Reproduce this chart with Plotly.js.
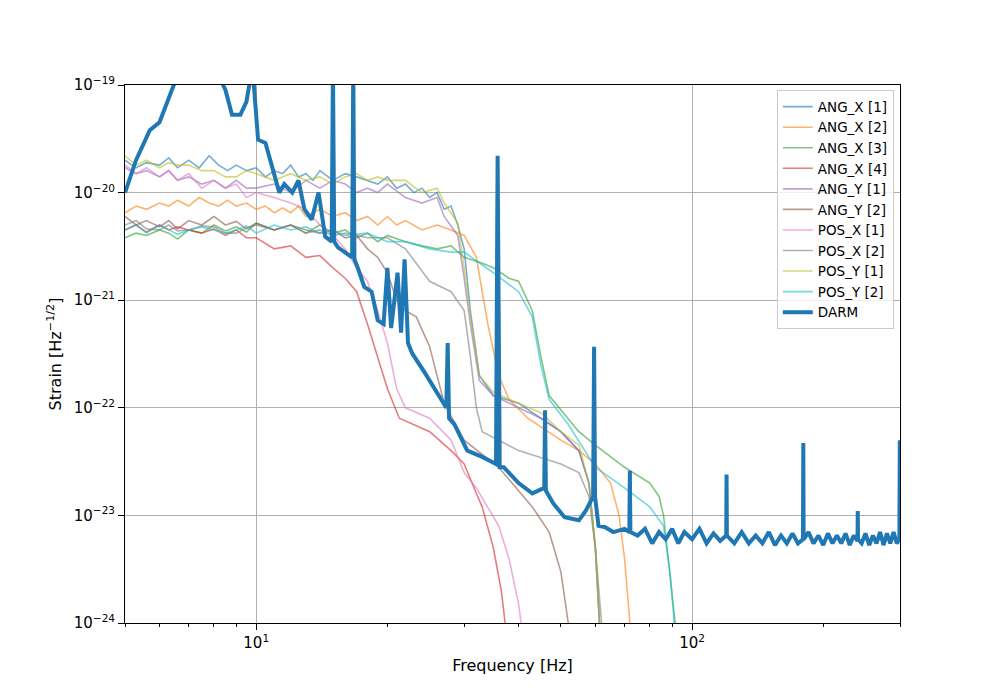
<!DOCTYPE html>
<html><head><meta charset="utf-8">
<script src="https://cdn.plot.ly/plotly-3.0.1.min.js"></script>
<style>body{margin:0}#c{width:1000px;height:700px}</style>
</head><body><div id="c"></div>
<script>
const angX1_f=[5,5.3,5.6,6,6.3,6.6,7,7.4,7.8,8.2,8.6,9,9.5,10,10.5,11,11.5,12,12.5,13,13.5,14,15,16,17,18,19,20,21,22,23,24,25,26,27,28,29,30,31,32.5,35,40,45,50,55,58,60,61.5];
const angX1_v=[2e-20,1.7e-20,1.9e-20,1.8e-20,2.1e-20,1.7e-20,2e-20,1.7e-20,2.2e-20,1.8e-20,1.6e-20,1.8e-20,1.6e-20,1.7e-20,1.4e-20,1.6e-20,1.5e-20,1.8e-20,1.4e-20,1.5e-20,1.3e-20,1.6e-20,1.3e-20,1.5e-20,1.4e-20,1.3e-20,1.2e-20,1.4e-20,1.1e-20,1.2e-20,1e-20,1.1e-20,9e-21,1e-20,7e-21,7.5e-21,5e-21,3e-21,8e-22,2e-22,1.3e-22,1.1e-22,8e-23,6e-23,4e-23,2e-23,5e-24,8e-25];
const angX2_f=[5,5.3,5.6,6,6.3,6.6,7,7.4,7.8,8.2,8.6,9,9.5,10,10.5,11,11.5,12,12.5,13,14,15,16,17,18,19,20,21,22,24,26,28,30,32,33,34,36,38,42,50,55,60,65,68,70,72];
const angX2_v=[6.5e-21,7.5e-21,7e-21,8e-21,7.5e-21,8.5e-21,7.5e-21,9e-21,8e-21,7.5e-21,8.5e-21,7.5e-21,8e-21,7e-21,7.5e-21,6.5e-21,7.2e-21,6.5e-21,7.5e-21,6e-21,7e-21,6e-21,6.5e-21,5.5e-21,6e-21,5e-21,6e-21,5e-21,5.5e-21,4.5e-21,5e-21,4.5e-21,4e-21,2.5e-21,1.2e-21,6e-22,2e-22,1.2e-22,8e-23,5e-23,4e-23,3e-23,2e-23,1e-23,4e-24,1e-24];
const angX3_f=[5,5.3,5.6,6,6.3,6.6,7,7.5,8,8.5,9,9.5,10,11,12,13,14,15,16,17,18,19,20,22,24,26,28,30,33,35,38,40,43,45,47,52,55,60,70,80,84,86,89,92];
const angX3_v=[3.8e-21,4.2e-21,4e-21,4.5e-21,4.2e-21,3.7e-21,4.5e-21,4.2e-21,5e-21,4.4e-21,4.8e-21,4.3e-21,5.2e-21,4.5e-21,5e-21,4.2e-21,5e-21,4.2e-21,4.5e-21,3.8e-21,4.2e-21,3.5e-21,4e-21,3.5e-21,3.2e-21,3e-21,3.2e-21,2.5e-21,2.2e-21,2e-21,1.6e-21,1.5e-21,8e-22,3e-22,1.3e-22,8e-23,6e-23,4.5e-23,2.8e-23,2e-23,1.5e-23,1e-23,3e-24,8e-25];
const angX4_f=[5,5.3,5.6,6,6.3,6.6,7,7.5,8,8.5,9,9.5,10,11,12,13,14,15,16,17,18,19,20,21.3,23,25,28,30,32,33,35,36.5,37.5];
const angX4_v=[4.5e-21,5e-21,4.3e-21,5e-21,4.5e-21,4.8e-21,4.5e-21,4.2e-21,4.6e-21,4e-21,4.5e-21,3.8e-21,3.8e-21,3e-21,3.2e-21,2.5e-21,2.6e-21,2e-21,1.6e-21,1.2e-21,6e-22,3e-22,1.5e-22,8e-23,7e-23,6e-23,4e-23,3e-23,1.6e-23,1.2e-23,5e-24,2e-24,8e-25];
const angY1_f=[5,5.3,5.6,6,6.3,6.6,7,7.5,8,8.5,9,9.5,10,11,12,13,14,15,16,17,18,19,20,22,24,26,27,29,30,31,32.5,35,40,45,50,55,58,60,61.5];
const angY1_v=[1.7e-20,1.5e-20,1.6e-20,1.4e-20,1.6e-20,1.3e-20,1.4e-20,1.2e-20,1.3e-20,1.1e-20,1.3e-20,1.1e-20,1.1e-20,1.2e-20,1e-20,1.3e-20,1.1e-20,1.3e-20,1.2e-20,1e-20,1.1e-20,1e-20,1.2e-20,9e-21,8e-21,9e-21,6e-21,4e-21,1.6e-21,6e-22,1.8e-22,1.3e-22,1e-22,8e-23,6e-23,4e-23,2e-23,5e-24,8e-25];
const angY2_f=[5,5.3,5.6,6,6.3,6.6,7,7.5,8,8.5,9,9.5,10,11,12,13,14,15,16,17,18,19,20,21,22,23.3,25,27,30,36,43,47,50,52];
const angY2_v=[6e-21,5e-21,5.5e-21,4.8e-21,5.5e-21,4.6e-21,5.5e-21,5e-21,6e-21,5e-21,5.4e-21,4.6e-21,5.2e-21,4.5e-21,5e-21,4.5e-21,4.2e-21,4.5e-21,3.8e-21,4e-21,3e-21,2.5e-21,1.8e-21,1e-21,8e-22,7e-22,3.7e-22,1.1e-22,5e-23,2.8e-23,1.2e-23,7e-24,3e-24,1e-24];
const posX1_f=[5,5.3,5.6,6,6.3,6.6,7,7.5,8,8.5,9,9.5,10,11,12,13,14,15,16,17,18,19,20,21,22,25,28,30,32,34,36,38,40,41];
const posX1_v=[1.8e-20,1.5e-20,1.7e-20,1.4e-20,1.6e-20,1.3e-20,1.5e-20,1.1e-20,1.3e-20,1.1e-20,1.2e-20,9e-21,1e-20,9e-21,8e-21,7e-21,5e-21,4e-21,3e-21,2e-21,1.5e-21,8e-22,4e-22,1.5e-22,1e-22,8e-23,5e-23,2.5e-23,1.8e-23,1.2e-23,8e-24,4e-24,1.5e-24,7e-25];
const posX2_f=[5,5.3,5.6,6,6.3,6.6,7,7.5,8,8.5,9,9.5,10,11,12,13,14,15,16,18,20,22,25,28,30,31,32,33,40,50,55,58,60,62];
const posX2_v=[5e-21,5.5e-21,4.6e-21,4.5e-21,5e-21,4.4e-21,4.5e-21,4.9e-21,4.8e-21,4.2e-21,4.2e-21,4.7e-21,5e-21,4.5e-21,5e-21,4.2e-21,4.5e-21,4e-21,4.2e-21,3.8e-21,3.8e-21,3e-21,1.5e-21,1.2e-21,8e-22,3e-22,1e-22,6e-23,4e-23,3e-23,2.5e-23,1.5e-23,5e-24,1e-24];
const posY1_f=[5,5.3,5.6,6,6.3,6.6,7,7.5,8,8.5,9,9.5,10,11,12,13,14,15,16,17,18,19,20,22,24,26,27,29,30,31,32.5,35,40,45,50,55,58,60,61.5];
const posY1_v=[2.2e-20,1.8e-20,2e-20,1.7e-20,1.9e-20,1.8e-20,1.8e-20,1.6e-20,1.6e-20,1.4e-20,1.4e-20,1.6e-20,1.5e-20,1.3e-20,1.5e-20,1.3e-20,1.4e-20,1.2e-20,1.4e-20,1.5e-20,1.3e-20,1.4e-20,1.3e-20,1.3e-20,1e-20,1.1e-20,8e-21,5.2e-21,2e-21,7e-22,2e-22,1.4e-22,1.1e-22,9e-23,6e-23,4.5e-23,2e-23,5e-24,8e-25];
const posY2_f=[5,5.3,5.6,6,6.3,6.6,7,7.5,8,8.5,9,9.5,10,11,12,13,14,15,16,18,20,22,25,28,30,35,40,43,45,47,52,60,70,80,86,89,92];
const posY2_v=[4.5e-21,5e-21,4.2e-21,5e-21,4.5e-21,4.1e-21,4.5e-21,4.8e-21,4.5e-21,4.2e-21,4.5e-21,4.9e-21,4.2e-21,5e-21,4.5e-21,4.8e-21,4.2e-21,4.5e-21,4e-21,4.2e-21,3.5e-21,3.5e-21,3e-21,2.8e-21,2.8e-21,1.8e-21,1.2e-21,7e-22,2.5e-22,1.2e-22,7e-23,2.8e-23,1.8e-23,1.2e-23,8e-24,3e-24,6e-25];
const darm_f=[5,5.3,5.7,6.0,6.5,7,7.5,8,8.5,8.8,9.2,9.5,9.8,10.1,10.5,11.0,11.3,11.6,12.1,12.5,12.9,13.4,13.9,14.4,14.9,15.0,15.1,15.4,16.0,16.6,16.7,16.8,17.1,17.7,18.4,19.0,19.6,20.0,20.4,21.1,21.5,21.9,22.3,22.8,24.4,26,27.3,27.5,27.7,28.5,30.5,33,35.5,35.8,36.2,37,40,43,45.8,46,46.2,48,51,55,57,59.3,59.6,59.9,61,63,66,70,71.8,72,72.2,75,78,81,84,87,90,93,96,100,104,108,112,116,119.8,120,120.2,125,130,135,140,145,150,155,160,165,170,175,179.7,180,180.3,185,190,195,200,205,210,215,220,225,230,235,239.7,240,240.3,245,250,255,260,265,270,275,280,285,290,295,299,299.7,300];
const darm_v=[1e-20,2e-20,3.8e-20,4.5e-20,1.05e-19,1.5e-19,1.5e-19,1.5e-19,9e-20,5.3e-20,5.3e-20,7e-20,1.5e-19,3.1e-20,2.9e-20,1.5e-20,1e-20,1.2e-20,1e-20,1.3e-20,7e-21,5.6e-21,1e-20,3.9e-21,3.5e-21,1.5e-19,3.5e-21,3.1e-21,2.8e-21,2.5e-21,1.5e-19,2.4e-21,2e-21,1.33e-21,1.2e-21,6.5e-22,6e-22,2e-21,5.5e-22,1.8e-21,5e-22,2.4e-21,4e-22,3.2e-22,2.1e-22,1.4e-22,1e-22,4e-22,8e-23,7e-23,4e-23,3.5e-23,3e-23,2.2e-20,2.8e-23,2.8e-23,2e-23,1.6e-23,1.8e-23,9.5e-23,1.7e-23,1.3e-23,9.6e-24,9e-24,1.1e-23,1.5e-23,3.7e-22,1.5e-23,8e-24,7.8e-24,7e-24,7.5e-24,7e-24,2.6e-23,7e-24,6.5e-24,7.5e-24,5.5e-24,7e-24,6e-24,7.5e-24,5.5e-24,7e-24,6e-24,7.5e-24,5.5e-24,6.8e-24,5.8e-24,6.5e-24,2.4e-23,6.5e-24,5.5e-24,7e-24,5.5e-24,6.5e-24,5.5e-24,7e-24,5.3e-24,6.5e-24,5.5e-24,6.8e-24,5.5e-24,6e-24,4.7e-23,6e-24,7e-24,5.5e-24,6.5e-24,5.3e-24,6.8e-24,5.5e-24,6.5e-24,5.5e-24,6.8e-24,5.3e-24,6.5e-24,5.8e-24,1.1e-23,6e-24,5.5e-24,6.8e-24,5.3e-24,6.5e-24,5.5e-24,7e-24,5.3e-24,6.8e-24,5.5e-24,7e-24,5.5e-24,6e-24,5e-23,5e-23];
const names=['ANG_X [1]','ANG_X [2]','ANG_X [3]','ANG_X [4]','ANG_Y [1]','ANG_Y [2]','POS_X [1]','POS_X [2]','POS_Y [1]','POS_Y [2]'];
const colors=['#1f77b4','#ff7f0e','#2ca02c','#d62728','#9467bd','#8c564b','#e377c2','#7f7f7f','#bcbd22','#17becf'];
const series=[[angX1_f,angX1_v],[angX2_f,angX2_v],[angX3_f,angX3_v],[angX4_f,angX4_v],[angY1_f,angY1_v],[angY2_f,angY2_v],[posX1_f,posX1_v],[posX2_f,posX2_v],[posY1_f,posY1_v],[posY2_f,posY2_v]];
const xTickVals=[10,100], xTickText=['10<sup>1</sup>','10<sup>2</sup>'];
const yTickVals=[1e-24,1e-23,1e-22,1e-21,1e-20,1e-19], yTickText=['10<sup>−24</sup>','10<sup>−23</sup>','10<sup>−22</sup>','10<sup>−21</sup>','10<sup>−20</sup>','10<sup>−19</sup>'];
const traces=series.map((s,i)=>({x:s[0],y:s[1],name:names[i],mode:'lines',opacity:0.6,line:{color:colors[i],width:1.6}}));
traces.push({x:darm_f,y:darm_v,name:'DARM',mode:'lines',line:{color:'#1f77b4',width:4}});
const ax={showline:true,mirror:true,linecolor:'black',linewidth:1,gridcolor:'#b0b0b0',gridwidth:1,ticks:'outside',ticklen:6,tickcolor:'black',zeroline:false,tickfont:{size:15,color:'black'}};
Plotly.newPlot('c',traces,{
 width:1000,height:700,paper_bgcolor:'white',plot_bgcolor:'white',
 font:{family:'DejaVu Sans',color:'black'},
 margin:{l:125,r:100,t:85,b:77},
 xaxis:Object.assign({},ax,{type:'log',range:[Math.log10(5),Math.log10(300)],tickmode:'array',tickvals:xTickVals,ticktext:xTickText,
   minor:{ticks:'outside',ticklen:3,tickcolor:'black',showgrid:false,tickvals:[5,6,7,8,9,20,30,40,50,60,70,80,90,200,300]},
   title:{text:'Frequency [Hz]',font:{size:16},standoff:8}}),
 yaxis:Object.assign({},ax,{type:'log',range:[-24,-19],tickmode:'array',tickvals:yTickVals,ticktext:yTickText,
   title:{text:'Strain [Hz<sup>−1/2</sup>]',font:{size:16},standoff:8}}),
 legend:{x:0.992,y:0.99,xanchor:'right',yanchor:'top',bgcolor:'rgba(255,255,255,0.8)',bordercolor:'#cccccc',borderwidth:1,font:{size:13.5},tracegroupgap:0},
 showlegend:true
},{staticPlot:true});
</script></body></html>
